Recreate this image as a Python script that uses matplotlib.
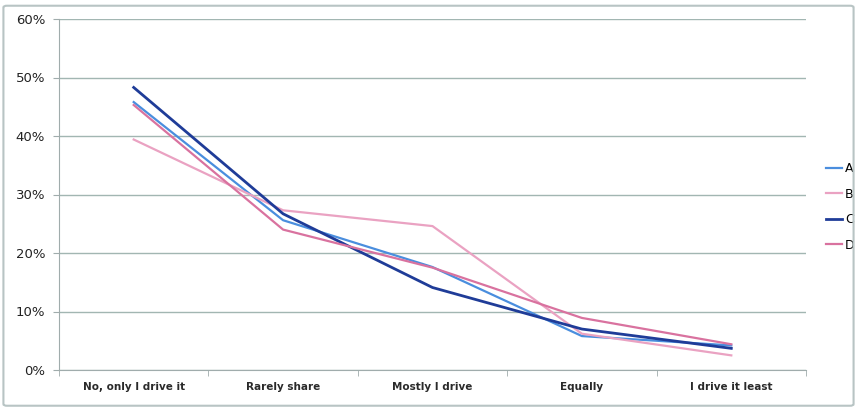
import matplotlib.pyplot as plt
from matplotlib.patches import FancyBboxPatch
from matplotlib.ticker import PercentFormatter

# Survey answers and share per group (percent)
categories = ["No, only I drive it", "Rarely share", "Mostly I drive", "Equally", "I drive it least"]
series_names = ["A", "B", "C", "D"]
a_vals = [45.8, 25.6, 17.6, 5.8, 4.2]
b_vals = [39.4, 27.3, 24.6, 6.2, 2.5]
c_vals = [48.3, 26.7, 14.1, 7.0, 3.7]
d_vals = [45.3, 24.0, 17.5, 8.9, 4.4]
colors = ["#4a8ede", "#eaa2c2", "#1f3c98", "#d9729f"]

fig = plt.figure(figsize=(8.57, 4.09), dpi=100)
fig.patches.append(FancyBboxPatch((0.004, 0.008), 0.992, 0.978,
                                  boxstyle="round,pad=0,rounding_size=0.004",
                                  transform=fig.transFigure, fill=False,
                                  edgecolor="#b8c4c4", linewidth=1.5))

ax = fig.add_axes([59 / 857, 1 - 370 / 409, 747 / 857, 351 / 409])
x = range(len(categories))
for name, vals, col in zip(series_names, [a_vals, b_vals, c_vals, d_vals], colors):
    ax.plot(x, vals, color=col, linewidth=2 if name == "C" else 1.6, label=name)

ax.set_xlim(-0.5, len(categories) - 0.5)
ax.set_ylim(0, 60)
ax.set_yticks(range(0, 61, 10))
ax.yaxis.set_major_formatter(PercentFormatter(decimals=0))
ax.set_xticks(list(x))
ax.set_xticklabels(categories, fontweight="bold", fontsize=7.5, color="#2a2a2a")
ax.set_xticks([i + 0.5 for i in range(-1, len(categories))], minor=True)
ax.tick_params(axis="x", which="major", length=0, pad=9)
ax.tick_params(axis="x", which="minor", length=4, color="#a0acac")
ax.tick_params(axis="y", length=4, color="#a0acac", labelsize=9.5, labelcolor="#222222", pad=6)
ax.grid(axis="y", color="#a2b6b2", linewidth=1)
ax.set_axisbelow(True)
for side in ["top", "right"]:
    ax.spines[side].set_visible(False)
for side in ["left", "bottom"]:
    ax.spines[side].set_color("#a0acac")

ax.legend(loc="center left", bbox_to_anchor=(1.012, 0.465), frameon=False,
          handlelength=1.3, handletextpad=0.2, labelspacing=1.0, fontsize=9)

fig.savefig("out.png", dpi=100)
